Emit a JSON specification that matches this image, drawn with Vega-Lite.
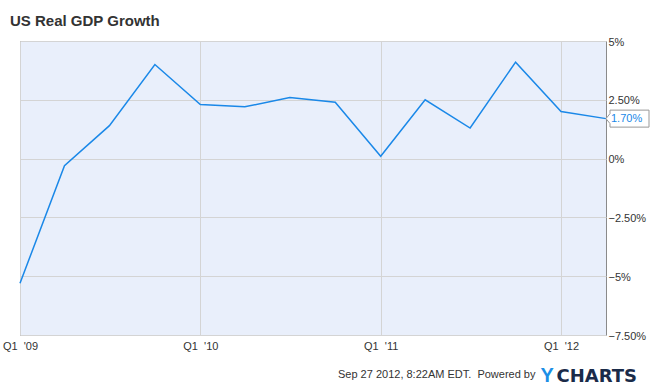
{
  "$schema": "https://vega.github.io/schema/vega-lite/v6.json",
  "autosize": {"type": "none"},
  "width": 586,
  "height": 294,
  "padding": {"left": 20, "top": 41, "right": 44, "bottom": 53},
  "background": "white",
  "title": {
    "text": "US Real GDP Growth",
    "anchor": "start",
    "frame": "group",
    "dx": -10,
    "offset": 7,
    "font": "Liberation Sans",
    "fontSize": 15,
    "fontWeight": "bold",
    "color": "#333333"
  },
  "config": {
    "font": "Liberation Sans",
    "view": {"stroke": "#8a8a8a", "strokeWidth": 1, "fill": "#e9effb"}
  },
  "datasets": {
    "gdp": [
      {"date": "2009-01-01", "value": -5.3},
      {"date": "2009-04-01", "value": -0.3},
      {"date": "2009-07-01", "value": 1.4},
      {"date": "2009-10-01", "value": 4.0},
      {"date": "2010-01-01", "value": 2.3},
      {"date": "2010-04-01", "value": 2.2},
      {"date": "2010-07-01", "value": 2.6},
      {"date": "2010-10-01", "value": 2.4},
      {"date": "2011-01-01", "value": 0.1},
      {"date": "2011-04-01", "value": 2.5},
      {"date": "2011-07-01", "value": 1.3},
      {"date": "2011-10-01", "value": 4.1},
      {"date": "2012-01-01", "value": 2.0},
      {"date": "2012-04-01", "value": 1.7}
    ],
    "last": [
      {"date": "2012-04-01", "value": 1.7, "label": "1.70%"}
    ]
  },
  "layer": [
    {
      "data": {"name": "gdp"},
      "mark": {"type": "line", "color": "#1a88e8", "strokeWidth": 1.5},
      "encoding": {
        "x": {
          "field": "date",
          "type": "temporal",
          "scale": {
            "type": "utc",
            "nice": false,
            "domain": [
              {"year": 2009, "month": 1, "date": 1, "utc": true},
              {"year": 2012, "month": 4, "date": 1, "utc": true}
            ]
          },
          "axis": {
            "orient": "bottom",
            "values": [
              {"year": 2009, "month": 1, "date": 1, "utc": true},
              {"year": 2010, "month": 1, "date": 1, "utc": true},
              {"year": 2011, "month": 1, "date": 1, "utc": true},
              {"year": 2012, "month": 1, "date": 1, "utc": true}
            ],
            "labelExpr": "'Q' + utcquarter(datum.value) + \"\u00a0 '\" + utcFormat(datum.value, '%y')",
            "grid": true,
            "gridColor": "#d4d4d4",
            "ticks": false,
            "domain": false,
            "labelPadding": 5,
            "labelFont": "Liberation Sans",
            "labelFontSize": 11,
            "labelColor": "#333333",
            "labelOverlap": false,
            "labelFlush": false,
            "labelAlign": "center",
            "title": "Sep 27 2012, 8:22AM EDT.\u00a0 Powered by",
            "titleX": 515,
            "titleY": 42,
            "titleAlign": "right",
            "titleBaseline": "alphabetic",
            "titleFont": "Liberation Sans",
            "titleFontSize": 11,
            "titleFontWeight": "normal",
            "titleColor": "#333333"
          }
        },
        "y": {
          "field": "value",
          "type": "quantitative",
          "scale": {"domain": [-7.5, 5], "nice": false, "zero": false},
          "axis": {
            "orient": "right",
            "values": [-7.5, -5, -2.5, 0, 2.5, 5],
            "labelExpr": "(datum.value % 1 == 0 ? format(datum.value, 'd') : format(datum.value, '.2f')) + '%'",
            "grid": true,
            "gridColor": "#d4d4d4",
            "ticks": false,
            "domain": false,
            "labelPadding": 2,
            "labelFont": "Liberation Sans",
            "labelFontSize": 11,
            "labelColor": "#333333",
            "labelOverlap": false,
            "labelFlush": false,
            "labelBaseline": "middle",
            "labelOffset": 1,
            "title": "Y",
            "titleAngle": 0,
            "titleX": -66,
            "titleY": 340,
            "titleAlign": "left",
            "titleBaseline": "alphabetic",
            "titleFont": "Liberation Sans",
            "titleFontSize": 20,
            "titleFontWeight": "bold",
            "titleColor": "#1c8fe6"
          }
        }
      }
    },
    {
      "data": {"name": "last"},
      "mark": {
        "type": "point",
        "shape": "M0,0L4,-5L4,-8.5L43,-8.5L43,8.5L4,8.5L4,5Z",
        "size": 4,
        "filled": true,
        "fill": "white",
        "stroke": "#999999",
        "strokeWidth": 1,
        "opacity": 1
      },
      "encoding": {
        "x": {"field": "date", "type": "temporal"},
        "y": {
          "field": "value",
          "type": "quantitative",
          "axis": {
            "orient": "right",
            "labels": false,
            "ticks": false,
            "domain": false,
            "grid": false,
            "title": null
          }
        }
      }
    },
    {
      "data": {"name": "last"},
      "mark": {
        "type": "text",
        "align": "left",
        "baseline": "middle",
        "dx": 5,
        "color": "#1a88e8",
        "font": "Liberation Sans",
        "fontSize": 11
      },
      "encoding": {
        "x": {"field": "date", "type": "temporal"},
        "y": {
          "field": "value",
          "type": "quantitative",
          "axis": {
            "orient": "left",
            "labels": false,
            "ticks": false,
            "domain": false,
            "grid": false,
            "title": "CHARTS",
            "titleAngle": 0,
            "titleX": 536,
            "titleY": 340,
            "titleAlign": "left",
            "titleBaseline": "alphabetic",
            "titleFont": "DejaVu Sans",
            "titleFontSize": 18,
            "titleFontWeight": "bold",
            "titleColor": "#1a2b49"
          }
        },
        "text": {"field": "label"}
      }
    }
  ]
}
